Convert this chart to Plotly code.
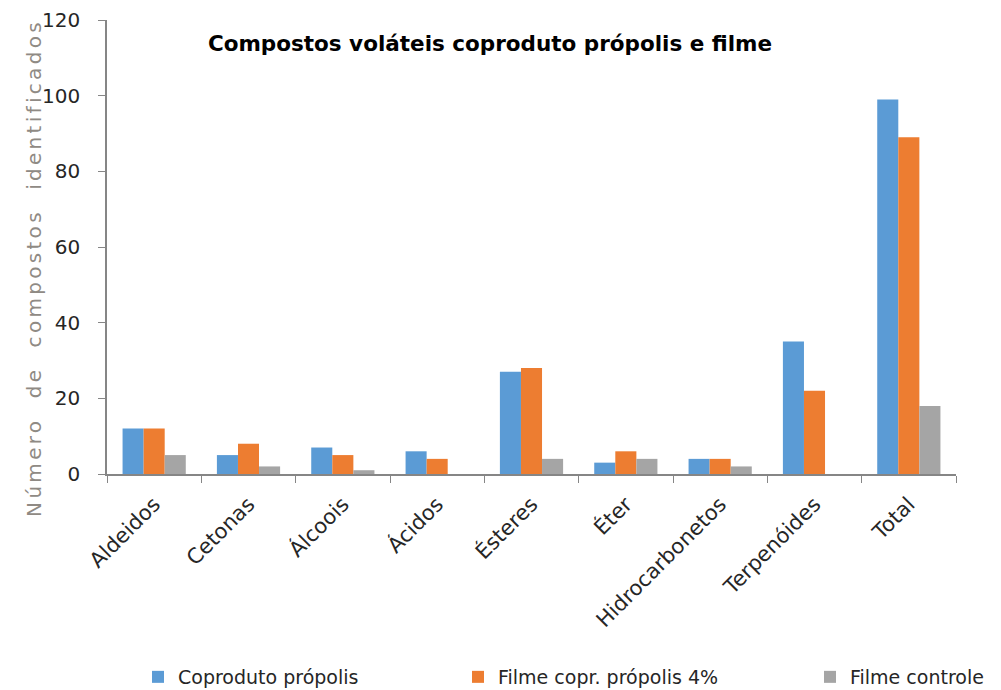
import plotly.graph_objects as go

categorias = ["Aldeidos", "Cetonas", "Álcoois", "Ácidos", "Ésteres", "Éter",
              "Hidrocarbonetos", "Terpenóides", "Total"]
coproduto_propolis = [12, 5, 7, 6, 27, 3, 4, 35, 99]
filme_propolis_4 = [12, 8, 5, 4, 28, 6, 4, 22, 89]
filme_controle = [5, 2, 1, 0, 4, 4, 2, 0, 18]

series = [
    ("Coproduto própolis", coproduto_propolis, "#5b9bd5", "legend"),
    ("Filme copr. própolis 4%", filme_propolis_4, "#ed7d31", "legend2"),
    ("Filme controle", filme_controle, "#a5a5a5", "legend3"),
]

FONT = "DejaVu Sans"
TXT = "#262626"
AXIS = "#868686"

fig = go.Figure()
for nome, valores, cor, leg in series:
    fig.add_trace(go.Bar(x=categorias, y=valores, name=nome, legend=leg,
                         marker=dict(color=cor, line=dict(width=0))))

# one legend box per series so each entry sits at its own position
leg_common = dict(orientation="h", xref="container", yref="container",
                  xanchor="left", yanchor="middle", y=1 - 677 / 690,
                  bgcolor="rgba(0,0,0,0)",
                  font=dict(family=FONT, size=19, color=TXT))

fig.update_layout(
    width=1001, height=690,
    margin=dict(l=107, r=45, t=20, b=216, autoexpand=False),
    paper_bgcolor="white", plot_bgcolor="white",
    barmode="group", bargap=0.33, bargroupgap=0,
    font=dict(family=FONT, size=19, color=TXT),
    title=dict(text="<b>Compostos voláteis coproduto própolis e filme</b>",
               x=490 / 1001, xanchor="center", y=1 - 43 / 690, yanchor="middle",
               font=dict(family=FONT, size=21.5, color="#000000")),
    legend=dict(leg_common, x=138 / 1001),
    legend2=dict(leg_common, x=458 / 1001),
    legend3=dict(leg_common, x=810 / 1001),
    showlegend=True,
)

fig.update_xaxes(
    type="category", showline=True, linecolor=AXIS, linewidth=1.5,
    ticks="outside", tickson="boundaries", ticklen=7, tickcolor=AXIS,
    tickangle=-45, showgrid=False, automargin=False, ticklabelstandoff=8,
    tickfont=dict(family=FONT, size=21, color=TXT),
)
fig.update_yaxes(
    range=[0, 120], dtick=20, showline=True, linecolor=AXIS, linewidth=1.5,
    ticks="outside", ticklen=7, tickcolor=AXIS, showgrid=False,
    zeroline=False, automargin=False, ticklabelstandoff=14,
    tickfont=dict(family=FONT, size=20, color=TXT),
)

fig.add_annotation(
    text='<span style="letter-spacing:3.3px">Número  de  compostos  identificados</span>',
    textangle=-90, xref="paper", yref="paper", x=-(107 - 34) / 849, y=0.454,
    xanchor="center", yanchor="middle", showarrow=False,
    font=dict(family=FONT, size=20, color="#8f8a84"),
)

fig.write_html("out.html")
